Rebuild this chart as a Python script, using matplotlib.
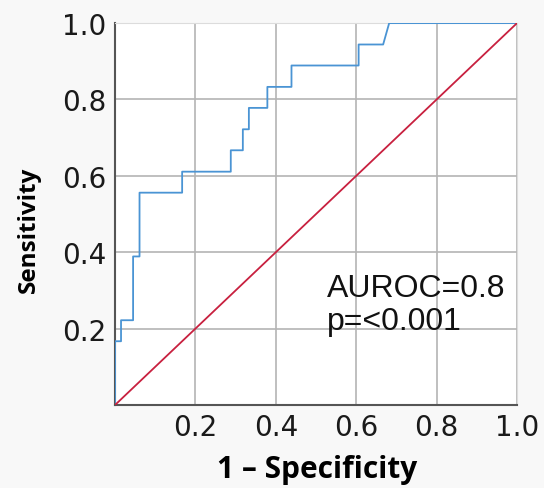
import matplotlib.pyplot as plt

# ROC curve (step points)
fpr = [0.0, 0.0, 0.015, 0.015, 0.045, 0.045, 0.061, 0.061, 0.167, 0.167,
       0.288, 0.288, 0.318, 0.318, 0.333, 0.333, 0.379, 0.379, 0.439, 0.439,
       0.606, 0.606, 0.667, 0.682, 1.0]
tpr = [0.0, 0.167, 0.167, 0.222, 0.222, 0.389, 0.389, 0.556, 0.556, 0.611,
       0.611, 0.667, 0.667, 0.722, 0.722, 0.778, 0.778, 0.833, 0.833, 0.889,
       0.889, 0.944, 0.944, 1.0, 1.0]
ref = [0.0, 1.0]
ticks = [0.2, 0.4, 0.6, 0.8, 1.0]
tick_labels = ['0.2', '0.4', '0.6', '0.8', '1.0']

fig = plt.figure(figsize=(5.44, 4.89), dpi=100, facecolor='#f8f8f8')
ax = fig.add_axes([0.2114, 0.1697, 0.739, 0.781])
ax.set_facecolor('white')

ax.plot(fpr, tpr, color='#4a94d4', lw=1.3, zorder=3)
ax.plot(ref, ref, color='#c8203f', lw=1.3, zorder=3)

ax.set_xlim(0, 1)
ax.set_ylim(0, 1)
ax.set_xticks(ticks)
ax.set_yticks(ticks)
ax.set_xticklabels(tick_labels)
ax.set_yticklabels(tick_labels)
ax.tick_params(length=0, labelsize=20, colors='#1a1a1a', pad=6)
ax.grid(True, color='#b4b4b4', lw=1.2)
ax.set_axisbelow(True)

for s in ['top', 'right']:
    ax.spines[s].set_color('#dcdcdc')
for s in ['left', 'bottom']:
    ax.spines[s].set_color('#555555')
    ax.spines[s].set_linewidth(1.5)

ax.set_xlabel('1 \u2013 Specificity', family='Open Sans', fontsize=21.5,
              fontweight='bold')
ax.set_ylabel('Sensitivity', family='Open Sans', fontsize=17.5,
              fontweight='bold')
ax.xaxis.set_label_coords(0.504, -0.128)
ax.yaxis.set_label_coords(-0.184, 0.461)

ax.text(0.528, 0.199, 'AUROC=0.8\np=<0.001', family='Liberation Sans',
        fontsize=23, color='#111111', linespacing=1.15, zorder=4)

fig.savefig('out.png', dpi=100, facecolor=fig.get_facecolor())
